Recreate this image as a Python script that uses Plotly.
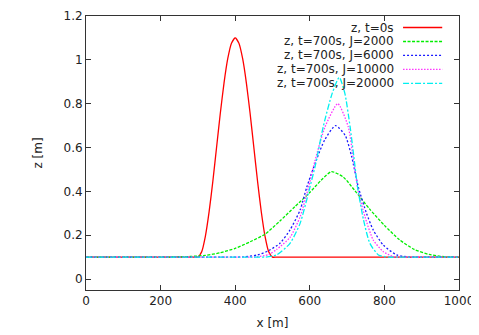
import plotly.graph_objects as go

# initial hump, t=0s
x_t0 = [0, 250, 290, 300, 310, 320, 330, 340, 350, 360, 370, 380, 390, 400,
        410, 420, 430, 440, 450, 460, 470, 480, 490, 500, 510, 550, 1000]
z_t0 = [0.1, 0.1, 0.1, 0.1, 0.124, 0.195, 0.306, 0.445, 0.6, 0.755, 0.894, 1.005, 1.076, 1.1,
        1.076, 1.005, 0.894, 0.755, 0.6, 0.445, 0.306, 0.195, 0.124, 0.1, 0.1, 0.1, 0.1]

# t=700s, J=2000
x_j2000 = [0, 150, 200, 250, 280, 320, 360, 400, 440, 480, 520, 560, 600, 630, 658,
           690, 720, 760, 800, 840, 880, 920, 960, 1000]
z_j2000 = [0.1, 0.1, 0.1, 0.101, 0.103, 0.108, 0.12, 0.14, 0.17, 0.205, 0.265, 0.33, 0.395, 0.45, 0.49,
           0.465, 0.405, 0.32, 0.245, 0.18, 0.135, 0.112, 0.102, 0.1]

# t=700s, J=6000
x_j6000 = [0, 300, 380, 420, 460, 490, 520, 547, 574, 592, 618, 640, 669,
           695, 712, 730, 752, 770, 797, 833, 870, 900, 1000]
z_j6000 = [0.1, 0.1, 0.1, 0.101, 0.11, 0.13, 0.163, 0.224, 0.315, 0.42, 0.545, 0.635, 0.70,
           0.655, 0.56, 0.42, 0.30, 0.224, 0.155, 0.11, 0.1, 0.1, 0.1]

# t=700s, J=10000
x_j10000 = [0, 350, 420, 450, 490, 511, 547, 574, 596, 614, 641, 675,
            703, 717, 730, 748, 770, 797, 824, 850, 900, 1000]
z_j10000 = [0.1, 0.1, 0.1, 0.1, 0.112, 0.135, 0.19, 0.284, 0.415, 0.54, 0.695, 0.80,
            0.695, 0.545, 0.40, 0.284, 0.178, 0.125, 0.102, 0.1, 0.1, 0.1]

# t=700s, J=20000
x_j20000 = [0, 380, 450, 480, 511, 547, 574, 596, 615, 636, 660, 679,
            694, 708, 718, 728, 744, 761, 784, 810, 840, 900, 1000]
z_j20000 = [0.1, 0.1, 0.1, 0.1, 0.11, 0.163, 0.254, 0.39, 0.52, 0.695, 0.847, 0.92,
            0.847, 0.695, 0.56, 0.42, 0.27, 0.163, 0.11, 0.1, 0.1, 0.1, 0.1]

series = [
    ("z, t=0s", x_t0, z_t0, "#ff0000", "solid", 1.3),
    ("z, t=700s, J=2000", x_j2000, z_j2000, "#00ee00", "3px,1.5px", 1.3),
    ("z, t=700s, J=6000", x_j6000, z_j6000, "#1a1aff", "2px,2px", 1.3),
    ("z, t=700s, J=10000", x_j10000, z_j10000, "#ff33ff", "1.5px,1.5px", 1.3),
    ("z, t=700s, J=20000", x_j20000, z_j20000, "#00f0f0", "6px,2px,2px,2px", 1.3),
]

FONT = "DejaVu Sans, sans-serif"
FSIZE = 12

fig = go.Figure()
shapes = []
annotations = []
row_y = [0.958, 0.907, 0.856, 0.805, 0.754]
for (name, xs, zs, color, dash, width), ry in zip(series, row_y):
    fig.add_trace(go.Scatter(
        x=xs, y=zs, mode="lines", name=name, showlegend=False,
        line=dict(color=color, width=width, dash=dash, shape="spline", smoothing=0.6),
    ))
    # gnuplot-style key: text right-aligned, sample to the right
    annotations.append(dict(
        xref="paper", yref="paper", x=0.828, y=ry, text=name, showarrow=False,
        xanchor="right", yanchor="middle", borderpad=0,
        font=dict(size=FSIZE, color="#222", family=FONT),
    ))
    shapes.append(dict(
        type="line", xref="paper", yref="paper", x0=0.85, x1=0.955, y0=ry, y1=ry,
        line=dict(color=color, width=width, dash=dash),
    ))


def axis(range, dtick, title, standoff):
    return dict(
        range=range, dtick=dtick, showgrid=False, zeroline=False,
        showline=True, linecolor="#333", linewidth=1, mirror="ticks",
        ticks="inside", ticklen=5, tickcolor="#333", automargin=False,
        tickfont=dict(size=FSIZE, color="#222", family=FONT),
        title=dict(text=title, standoff=standoff, font=dict(size=FSIZE, color="#222", family=FONT)),
    )


# page body adds an 8px offset, so the figure is 8px smaller than the window
fig.update_layout(
    width=471, height=327,
    margin=dict(l=78, r=20, t=8, b=45),
    plot_bgcolor="white", paper_bgcolor="white",
    xaxis=axis([0, 1000], 200, "x [m]", 11),
    yaxis=axis([-0.05, 1.2], 0.2, "z [m]", 18),
    shapes=shapes, annotations=annotations,
    showlegend=False,
)

fig.write_html("out.html")
